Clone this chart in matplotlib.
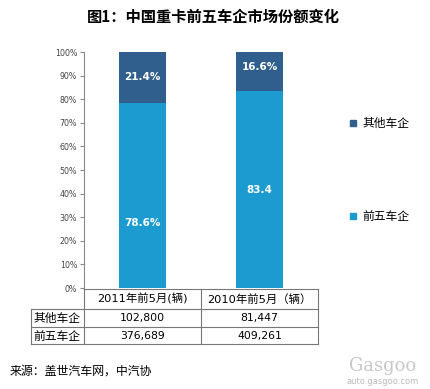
import matplotlib.pyplot as plt
from matplotlib.lines import Line2D
import numpy as np

plt.rcParams['font.family'] = ['Noto Sans CJK SC', 'DejaVu Sans']

years = ["2011年前5月(辆)", "2010年前5月（辆）"]
series = ["其他车企", "前五车企"]
other_counts = [102800, 81447]
top5_counts = [376689, 409261]
other_share = [21.4, 16.6]
top5_share = [78.6, 83.4]
top5_labels = ["78.6%", "83.4"]
other_labels = ["21.4%", "16.6%"]

c_top5 = "#1B9BCF"
c_other = "#305F8E"

W, H = 430, 389
fig = plt.figure(figsize=(W / 100, H / 100), dpi=100)


def px(x, y):
    return x / W, 1 - y / H


ax = fig.add_axes([84 / W, 1 - 288 / H, 234 / W, 236 / H])
x = np.arange(len(years))
ax.bar(x, top5_share, width=0.4, color=c_top5)
ax.bar(x, other_share, width=0.4, bottom=top5_share, color=c_other)
ax.set_xlim(-0.5, 1.5)
ax.set_ylim(0, 100)
ax.set_yticks(np.arange(0, 101, 10))
ax.set_yticklabels([f"{v}%" for v in range(0, 101, 10)], fontsize=5.7, color="#444444",
                   family="DejaVu Sans")
ax.tick_params(axis='y', length=3, width=0.8, color="#888888", pad=2)
ax.set_xticks([])
for s in ["top", "right", "bottom"]:
    ax.spines[s].set_visible(False)
ax.spines["left"].set_color("#888888")

# segment labels
top5_pos = [27.5, 41.7]
for i in range(2):
    ax.text(x[i], top5_pos[i], top5_labels[i], ha="center", va="center", color="white",
            fontsize=7.5, fontweight="bold", family="DejaVu Sans")
    ax.text(x[i], top5_share[i] + other_share[i] / 2 + (0 if i == 0 else 2), other_labels[i],
            ha="center", va="center", color="white", fontsize=7.5, fontweight="bold",
            family="DejaVu Sans")

# title
fig.text(*px(213, 17), "图1：中国重卡前五车企市场份额变化", ha="center", va="center",
         fontsize=11, fontweight="bold")

# legend
for name, col, yy in [(series[0], c_other, 123), (series[1], c_top5, 216)]:
    fig.add_artist(Line2D([353 / W], [1 - yy / H], marker="s", markersize=5, color=col,
                          linestyle=""))
    fig.text(*px(362, yy), name, ha="left", va="center", fontsize=8.5)

# data table
lc = "#777777"
def hline(x0, x1, y):
    fig.add_artist(Line2D([x0 / W, x1 / W], [1 - y / H, 1 - y / H], color=lc, lw=0.8))
def vline(xx, y0, y1):
    fig.add_artist(Line2D([xx / W, xx / W], [1 - y0 / H, 1 - y1 / H], color=lc, lw=0.8))

hline(84, 318, 288.5)
hline(31, 318, 309)
hline(31, 318, 327)
hline(31, 318, 344)
vline(31, 309, 344)
vline(84, 288.5, 344)
vline(201, 288.5, 344)
vline(318, 288.5, 344)

col_x = [142.5, 259.5]
for i in range(2):
    fig.text(*px(col_x[i], 299), years[i], ha="center", va="center", fontsize=8.2,
             family=["DejaVu Sans", "Noto Sans CJK SC"])
    fig.text(*px(col_x[i], 318.5), f"{other_counts[i]:,}", ha="center", va="center",
             fontsize=7.8, family="DejaVu Sans")
    fig.text(*px(col_x[i], 336), f"{top5_counts[i]:,}", ha="center", va="center",
             fontsize=7.8, family="DejaVu Sans")
fig.text(*px(57, 318), series[0], ha="center", va="center", fontsize=8.5)
fig.text(*px(57, 336), series[1], ha="center", va="center", fontsize=8.5)

# source
fig.text(*px(10, 371), "来源：盖世汽车网，中汽协", ha="left", va="center", fontsize=8.6)

# watermark
fig.text(*px(383, 366), "Gasgoo", ha="center", va="center", fontsize=13, color="#C8C8C8",
         family="DejaVu Serif")
fig.text(*px(383, 382), "auto.gasgoo.com", ha="center", va="center", fontsize=6,
         color="#BBBBBB", family="DejaVu Sans")

fig.savefig("out.png", dpi=100)
